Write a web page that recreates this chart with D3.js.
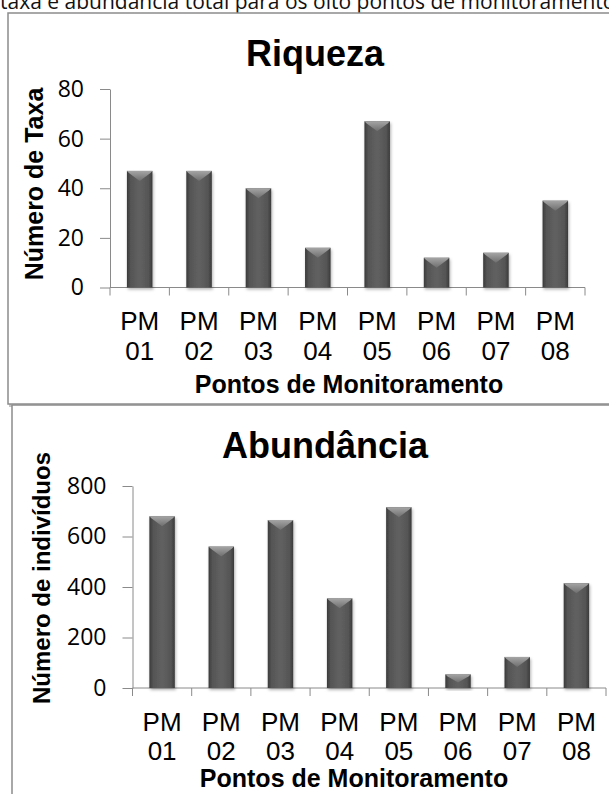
<!DOCTYPE html>
<html>
<head>
<meta charset="utf-8">
<script src="https://cdn.jsdelivr.net/npm/d3@7"></script>
<style>
  body { margin: 0; background: #fff; }
  svg { display: block; }
</style>
</head>
<body>
<svg id="chart"></svg>
<script>
// dados
const pontos = ["PM 01", "PM 02", "PM 03", "PM 04", "PM 05", "PM 06", "PM 07", "PM 08"];
const riqueza = [47, 47, 40, 16, 67, 12, 14, 35];
const abundancia = [680, 560, 665, 355, 716, 54, 123, 415];
const riquezaTicks = [0, 20, 40, 60, 80];
const abundanciaTicks = [0, 200, 400, 600, 800];
const legenda = "taxa e abundância total para os oito pontos de monitoramento";

const W = 609, H = 794;
const svg = d3.select("#chart").attr("width", W).attr("height", H);
const defs = svg.append("defs");

// gradiente das barras (efeito 3D do Excel)
let g1 = defs.append("linearGradient").attr("id", "barGrad").attr("x1", "0").attr("x2", "1").attr("y1", "0").attr("y2", "0");
[["0%", "#3a3a3a"], ["15%", "#555"], ["50%", "#616161"], ["85%", "#555"], ["100%", "#3a3a3a"]]
    .forEach(s => g1.append("stop").attr("offset", s[0]).attr("stop-color", s[1]));
let g2 = defs.append("linearGradient").attr("id", "bevelGrad").attr("x1", "0").attr("x2", "0").attr("y1", "0").attr("y2", "1");
[["0%", "#a5a5a5"], ["100%", "#6e6e6e"]]
    .forEach(s => g2.append("stop").attr("offset", s[0]).attr("stop-color", s[1]));
let f = defs.append("filter").attr("id", "shadow").attr("x", "-30%").attr("y", "-10%").attr("width", "160%").attr("height", "130%");
f.append("feDropShadow").attr("dx", 1).attr("dy", 2).attr("stdDeviation", 1.6)
    .attr("flood-color", "#000").attr("flood-opacity", 0.3);

// legenda cortada no topo (como no original)
svg.append("text")
    .attr("x", 0).attr("y", 9)
    .attr("font-family", "Open Sans, sans-serif").attr("font-size", 21)
    .attr("fill", "#111")
    .text(legenda);

function drawPanel(cfg) {
    let g = svg.append("g");

    // moldura com sombra
    g.append("rect")
        .attr("x", cfg.box.x + 2).attr("y", cfg.box.y + 2)
        .attr("width", cfg.box.w).attr("height", cfg.box.h)
        .attr("fill", "none").attr("stroke", "#c4c4c4").attr("stroke-width", 2);
    g.append("rect")
        .attr("x", cfg.box.x).attr("y", cfg.box.y)
        .attr("width", cfg.box.w).attr("height", cfg.box.h)
        .attr("fill", "#fff").attr("stroke", "#8c8c8c").attr("stroke-width", 1.5);

    let x = d3.scaleBand().domain(pontos).range(cfg.xRange).padding(0);
    let y = d3.scaleLinear().domain([0, d3.max(cfg.ticks)]).range(cfg.yRange);

    // eixo y
    let ya = g.append("g")
        .attr("transform", "translate(" + cfg.xRange[0] + ",0)")
        .call(d3.axisLeft(y).tickValues(cfg.ticks).tickSize(10).tickSizeOuter(0).tickPadding(16));
    ya.select(".domain").attr("stroke", "#8a8a8a");
    ya.selectAll(".tick line").attr("stroke", "#8a8a8a");
    ya.selectAll(".tick text")
        .attr("font-family", "Open Sans, sans-serif").attr("font-size", 23).attr("fill", "#000");

    // eixo x: linha e marcas nas divisoes
    let y0 = y(0);
    g.append("line")
        .attr("x1", cfg.xRange[0]).attr("x2", cfg.xRange[1])
        .attr("y1", y0).attr("y2", y0)
        .attr("stroke", "#8a8a8a");
    let bounds = pontos.map(d => x(d)).concat([x.range()[1]]);
    g.selectAll(".xtick").data(bounds).enter().append("line")
        .attr("x1", d => d).attr("x2", d => d)
        .attr("y1", y0).attr("y2", y0 + 8)
        .attr("stroke", "#8a8a8a");

    // barras
    let bw = x.bandwidth() * 0.43;
    let bars = g.selectAll(".bar").data(cfg.values).enter().append("g")
        .attr("filter", "url(#shadow)");
    bars.append("rect")
        .attr("x", (d, i) => x(pontos[i]) + x.bandwidth() / 2 - bw / 2)
        .attr("y", d => y(d))
        .attr("width", bw)
        .attr("height", d => y0 - y(d))
        .attr("fill", "url(#barGrad)");
    bars.append("path")
        .attr("d", (d, i) => {
            let x0 = x(pontos[i]) + x.bandwidth() / 2 - bw / 2, x1 = x0 + bw, t = y(d);
            let depth = Math.min(10, (y0 - t) * 0.6);
            return "M" + x0 + "," + t + "L" + x1 + "," + t + "L" + (x1 - 2) + "," + (t + 2) +
                "L" + (x0 + bw / 2) + "," + (t + depth) + "L" + (x0 + 2) + "," + (t + 2) + "Z";
        })
        .attr("fill", "url(#bevelGrad)");

    // rotulos do eixo x
    let lab = g.selectAll(".xlab").data(pontos).enter().append("text")
        .attr("text-anchor", "middle")
        .attr("font-family", "Liberation Sans, Arial, sans-serif").attr("font-size", 26)
        .attr("fill", "#000");
    lab.append("tspan")
        .attr("x", d => x(d) + x.bandwidth() / 2).attr("y", y0 + cfg.lab1)
        .text(d => d.split(" ")[0]);
    lab.append("tspan")
        .attr("x", d => x(d) + x.bandwidth() / 2).attr("y", y0 + cfg.lab2)
        .text(d => d.split(" ")[1]);

    // titulos
    g.append("text")
        .attr("x", cfg.titleX).attr("y", cfg.titleY)
        .attr("text-anchor", "middle")
        .attr("font-family", "Liberation Sans, Arial, sans-serif").attr("font-size", 36)
        .attr("font-weight", "bold")
        .text(cfg.title);
    g.append("text")
        .attr("x", cfg.xTitleX).attr("y", cfg.xTitleY)
        .attr("text-anchor", "middle")
        .attr("font-family", "Liberation Sans, Arial, sans-serif").attr("font-size", 25)
        .attr("font-weight", "bold")
        .text("Pontos de Monitoramento");
    g.append("text")
        .attr("transform", "translate(" + cfg.yTitleX + "," + cfg.yTitleY + ") rotate(-90)")
        .attr("text-anchor", "middle")
        .attr("font-family", "Liberation Sans, Arial, sans-serif").attr("font-size", cfg.yTitleSize)
        .attr("font-weight", "bold")
        .text(cfg.yTitle);
}

drawPanel({
    box: {x: 8, y: 13, w: 614, h: 391},
    xRange: [110, 585], yRange: [287.5, 89],
    values: riqueza, ticks: riquezaTicks,
    title: "Riqueza", titleX: 315, titleY: 66,
    yTitle: "Número de Taxa", yTitleX: 43, yTitleY: 184, yTitleSize: 25,
    xTitleX: 349, xTitleY: 393,
    lab1: 42, lab2: 72
});

drawPanel({
    box: {x: 12, y: 405, w: 614, h: 420},
    xRange: [132.5, 606], yRange: [688, 486],
    values: abundancia, ticks: abundanciaTicks,
    title: "Abundância", titleX: 325, titleY: 458,
    yTitle: "Número de indivíduos", yTitleX: 50, yTitleY: 578, yTitleSize: 24,
    xTitleX: 354, xTitleY: 787,
    lab1: 43, lab2: 72
});
</script>
</body>
</html>
